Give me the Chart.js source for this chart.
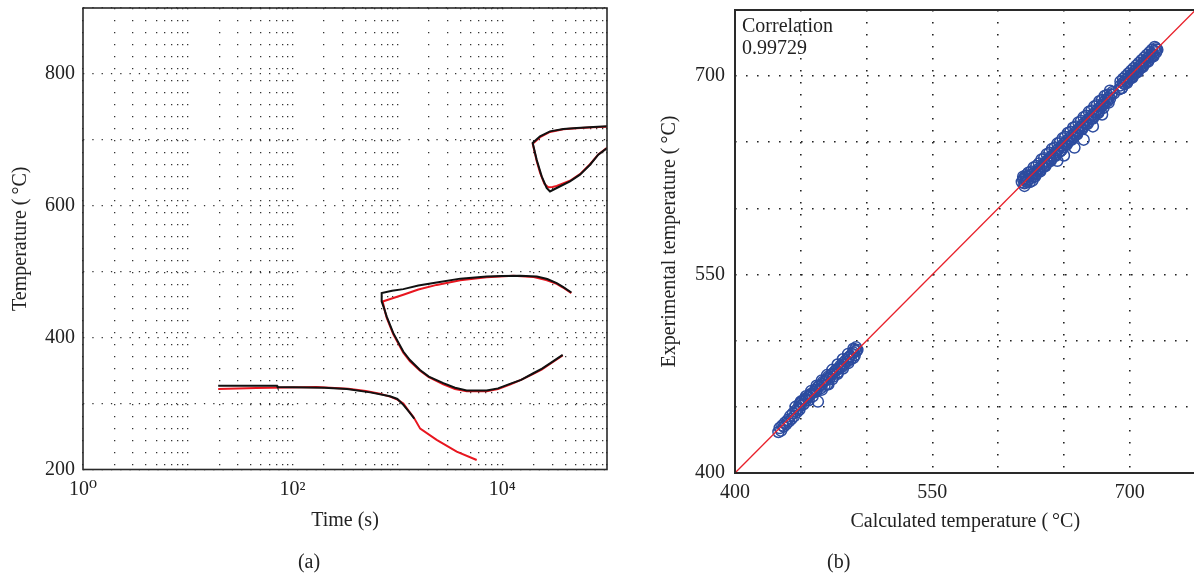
<!DOCTYPE html>
<html><head><meta charset="utf-8">
<script src="https://cdn.jsdelivr.net/npm/chart.js@4.4.1/dist/chart.umd.min.js"></script>
<style>
html,body{margin:0;padding:0;background:#fff;overflow:hidden;width:1194px;height:575px;}
canvas{position:absolute;top:0;}
#c1{left:11px;} #c2{left:482px;}
</style></head><body>
<canvas id="c1" width="609" height="575"></canvas>
<canvas id="c2" width="714" height="575"></canvas>
<script>
// ---------- Panel (a): CCT-type curves, time (s) vs temperature (°C) ----------
const expA_time = [19.5, 71, 72, 200, 330, 550, 850, 1000, 1140, 1300, 1450];
const expA_temp = [327, 327, 325, 324, 322, 317, 311, 307, 298, 287, 277];
const calcA_time = [19.5, 45, 170, 340, 500, 680, 850, 1000, 1140, 1280, 1420, 1650, 2370, 3680, 5710];
const calcA_temp = [322, 323.5, 325, 322.5, 319, 315, 310.5, 306, 300, 289, 280, 262, 245, 227, 214.4];

const expB_time = [45700, 38000, 33100, 26900, 21400, 14800, 10000, 7110, 3980, 2370, 1585, 1138, 890, 708, 708, 741, 791, 914, 1138, 1318, 1644, 1995, 2742, 3548, 4581, 7110, 9120, 11860, 15140, 19820, 23990, 28580, 37760];
const expB_temp = [468.5, 477, 482.7, 489, 492.7, 493.8, 493.5, 492.7, 489.5, 483.6, 479, 473.6, 471, 467.5, 454.8, 446, 432, 406.8, 378.9, 366, 351, 341, 330.9, 324, 319.7, 319.7, 323, 329.8, 336, 346, 353, 361, 373.9];
const calcB_time = [45700, 38000, 33100, 26300, 19950, 12760, 7110, 3980, 2370, 1585, 1138, 900, 724, 760, 791, 914, 1138, 1318, 1644, 1995, 2742, 3548, 4581, 7110, 9120, 11860, 15140, 19820, 23990, 28580, 37760];
const calcB_temp = [467.5, 476, 481.7, 487.5, 491.8, 493.8, 491.6, 487, 480, 473, 465, 459.7, 454.8, 440, 430, 405, 377, 364, 350, 340, 329, 322, 318.5, 318.5, 322, 329, 336, 345, 352, 360, 373];

const expC_time = [100000, 74000, 51400, 38300, 28580, 22960, 19540, 21330, 23820, 26550, 28580, 33110, 44360, 55210, 68870, 82600, 95700, 100000];
const expC_temp = [720.5, 719.6, 718.1, 716.6, 712.9, 705.3, 695.3, 669.9, 644.6, 627, 621.8, 627, 637, 647.2, 662.3, 677.5, 685.1, 687];
const calcC_time = [100000, 74000, 51400, 38300, 28580, 22960, 19540, 20500, 21330, 23000, 25300, 27500, 30200, 33110, 44360, 55210, 68870, 82600, 100000];
const calcC_temp = [720, 719, 717.5, 716, 712, 704, 694, 680, 668, 650, 633, 628, 628.5, 630, 638, 648, 663, 678, 688];

// axis ticks / labels of panel (a)
const timeDecades = [1, 10, 100, 1000, 10000];
const timeMultipliers = [1, 2, 3, 4, 5, 6, 7, 8, 9];
const timeMax = 100000;
const timeLabelValues = [1, 100, 10000];
const timeLabels = ['10\u2070', '10\u00B2', '10\u2074'];
const tempLabelValues = [200, 400, 600, 800];

// ---------- Panel (b): calculated vs experimental temperature ----------
const calcTemp = [
 433,434,435,436,437,438,439,440,441,442,443,444,445,446,447,448,449,449,450,451,452,453,454,455,456,456,457,458,459,460,461,462,463,463,464,465,466,467,468,469,470,471,471,472,473,474,475,476,477,478,479,480,481,482,483,484,485,486,487,488,489,490,491,491,492,492,493,
 446,450,454,458,462,466,470,474,478,482,486,490,466,470,474,478,482,486,490,
 618,619,620,620,621,622,622,623,624,625,626,626,627,628,629,630,631,632,633,634,635,636,637,638,639,640,641,642,643,644,645,645,646,647,648,649,650,650,651,652,653,654,655,656,657,658,658,659,660,661,662,663,664,665,665,666,667,668,669,670,671,672,672,673,674,675,676,677,678,679,679,680,681,682,683,684,685,686,687,688,
 619,621,623,625,627,629,631,633,635,637,639,641,643,645,647,649,651,653,655,657,659,661,663,665,667,669,671,673,675,677,679,681,683,685,
 620,624,628,632,636,640,644,648,652,656,660,664,668,672,676,680,684,
 692,693,694,695,696,697,698,699,700,701,702,703,704,705,706,707,708,709,710,711,712,713,714,715,716,717,718,719,720,721,720,
 693,695,697,699,701,703,705,707,709,711,713,715,717,719,
 694,698,702,706,710,714,718];
const expTemp = [
 431,434,432,436,435,438,437,440,439,443,441,445,443,447,446,449,452,448,451,454,452,456,455,457,458,455,459,460,458,461,463,462,454,465,466,464,467,469,466,470,471,467,473,472,474,475,473,477,478,476,479,481,480,483,482,485,484,487,488,486,490,491,489,493,492,495,493,
 450,454,458,462,466,470,474,478,482,486,490,494,463,467,471,475,479,483,487,
 620,622,619,623,621,620,624,622,625,623,621,626,624,627,626,628,630,629,632,631,634,633,636,635,638,637,640,639,642,641,636,644,645,643,647,646,649,640,648,651,650,653,652,655,654,646,657,656,659,658,661,660,663,652,662,665,664,667,666,669,668,662,671,670,673,672,675,674,677,671,678,680,679,682,681,684,683,686,688,687,
 624,625,627,628,631,632,634,637,638,641,642,645,646,649,650,653,654,657,658,661,662,665,666,669,670,673,674,677,678,681,682,685,686,689,
 617,620,624,628,632,636,640,644,648,652,656,660,664,668,672,676,680,
 690,693,691,695,694,697,696,699,698,701,700,703,702,705,704,707,706,709,708,711,710,713,712,715,714,717,716,719,718,720,721,
 696,698,700,702,704,706,708,710,712,714,716,718,720,722,
 691,695,699,703,707,711,715];
const fitLineX = [400, 750];
const fitLineY = [400, 750];
const calibLabelValues = [400, 550, 700];
const correlationText = ['Correlation', '0.99729'];

// ---------- helpers ----------
const zip = (xs, ys) => xs.map((x, i) => ({x: x, y: ys[i]}));
const timeGrid = timeDecades.flatMap(d => timeMultipliers.map(m => m * d)).concat([timeMax]);
const noPad = s => { s.paddingLeft = 0; s.paddingRight = 0; s.paddingTop = 0; s.paddingBottom = 0; };

Chart.defaults.font.family = "'Liberation Serif', 'DejaVu Serif', serif";
Chart.defaults.font.size = 20;
Chart.defaults.color = '#222';

const framePlugin = {
  id: 'frame',
  afterDatasetsDraw(chart, args, opts) {
    const {ctx, chartArea: a} = chart;
    ctx.save();
    ctx.strokeStyle = opts.color || '#333';
    ctx.lineWidth = opts.width || 1.5;
    ctx.strokeRect(a.left, a.top, a.right - a.left, a.bottom - a.top);
    ctx.restore();
  }
};
const notePlugin = {
  id: 'note',
  afterDraw(chart, args, opts) {
    if (!opts.lines) return;
    const {ctx, chartArea: a} = chart;
    ctx.save();
    ctx.font = "20px 'Liberation Serif', 'DejaVu Serif', serif";
    ctx.fillStyle = '#222';
    ctx.textBaseline = 'middle';
    ctx.textAlign = 'left';
    opts.lines.forEach((t, i) => ctx.fillText(t, a.left + opts.dx, a.top + opts.dy + i * opts.lh));
    ctx.restore();
  }
};

const lineDs = (data, color) => ({
  data: data, showLine: true, borderColor: color, backgroundColor: color,
  borderWidth: 2, pointRadius: 0, tension: 0
});

new Chart(document.getElementById('c1'), {
  type: 'scatter',
  data: {
    datasets: [
      lineDs(zip(expA_time, expA_temp), '#111'),
      lineDs(zip(expB_time, expB_temp), '#111'),
      lineDs(zip(expC_time, expC_temp), '#111'),
      lineDs(zip(calcA_time, calcA_temp), '#e8161f'),
      lineDs(zip(calcB_time, calcB_temp), '#e8161f'),
      lineDs(zip(calcC_time, calcC_temp), '#e8161f')
    ]
  },
  options: {
    responsive: false, animation: false, events: [],
    layout: {autoPadding: false, padding: {left: 0, right: 13, top: 8, bottom: 0}},
    plugins: {
      legend: {display: false}, tooltip: {enabled: false},
      title: {display: true, text: '(a)', position: 'bottom', color: '#222',
        font: {size: 20, weight: 'normal'}, padding: {top: 0, bottom: 0}},
      frame: {color: '#2a2a2a', width: 1.6}
    },
    scales: {
      x: {
        type: 'logarithmic', min: 1, max: timeMax,
        afterBuildTicks: s => { s.ticks = timeGrid.map(v => ({value: v})); },
        afterFit: s => { s.height = 81.5; noPad(s); },
        ticks: {autoSkip: false, maxRotation: 0, minRotation: 0, padding: 8, color: '#222',
          callback: v => { const i = timeLabelValues.indexOf(v); return i >= 0 ? timeLabels[i] : ''; }},
        grid: {color: '#333', lineWidth: 1.3, drawTicks: false},
        border: {display: false, dash: [1.3, 10.7]},
        title: {display: true, text: 'Time (s)', color: '#222', padding: {top: 0, bottom: 18}}
      },
      y: {
        min: 200, max: 900,
        afterFit: s => { s.width = 72; noPad(s); },
        ticks: {stepSize: 100, autoSkip: false, padding: 8, color: '#222',
          callback: v => tempLabelValues.includes(v) ? String(v) : ''},
        grid: {color: '#333', lineWidth: 1.3, drawTicks: false},
        border: {display: false, dash: [1.3, 8]},
        title: {display: true, text: 'Temperature (\u2009\u00B0C)', color: '#222',
          font: {size: 20, lineHeight: 1}, padding: {top: 0, bottom: 0}}
      }
    }
  },
  plugins: [framePlugin]
});

new Chart(document.getElementById('c2'), {
  type: 'scatter',
  data: {
    datasets: [
      {data: zip(fitLineX, fitLineY), showLine: true, borderColor: '#e8202a', borderWidth: 1.3,
        pointRadius: 0, tension: 0},
      {data: zip(calcTemp, expTemp), showLine: false, borderColor: '#2d4c9f',
        backgroundColor: 'rgba(0,0,0,0)', pointRadius: 5.5, pointBorderWidth: 1.5, pointStyle: 'circle'}
    ]
  },
  options: {
    responsive: false, animation: false, events: [],
    layout: {autoPadding: false, padding: {left: 0, right: 0.5, top: 10, bottom: 0}},
    plugins: {
      legend: {display: false}, tooltip: {enabled: false},
      title: {display: true, text: '(b)', position: 'bottom', color: '#222',
        font: {size: 20, weight: 'normal'}, padding: {top: 0, bottom: 0}},
      frame: {color: '#2a2a2a', width: 2},
      note: {lines: correlationText, dx: 7, dy: 17, lh: 21.5}
    },
    scales: {
      x: {
        type: 'linear', min: 400, max: 750,
        afterFit: s => { s.height = 78; noPad(s); },
        ticks: {stepSize: 50, autoSkip: false, maxRotation: 0, padding: 8, color: '#222',
          callback: v => calibLabelValues.includes(v) ? String(v) : ''},
        grid: {color: '#222', lineWidth: 1.6, drawTicks: false},
        border: {display: false, dash: [1.6, 10.4]},
        title: {display: true, text: 'Calculated temperature (\u2009\u00B0C)', color: '#222', padding: {top: 0, bottom: 17}}
      },
      y: {
        min: 400, max: 750,
        afterFit: s => { s.width = 253; noPad(s); },
        ticks: {stepSize: 50, autoSkip: false, padding: 10, color: '#222',
          callback: v => calibLabelValues.includes(v) ? String(v) : ''},
        grid: {color: '#222', lineWidth: 1.6, drawTicks: false},
        border: {display: false, dash: [1.6, 9.4]},
        title: {display: true, text: 'Experimental temperature (\u2009\u00B0C)', color: '#222', padding: {top: 176, bottom: 0}}
      }
    }
  },
  plugins: [framePlugin, notePlugin]
});
</script></body></html>
